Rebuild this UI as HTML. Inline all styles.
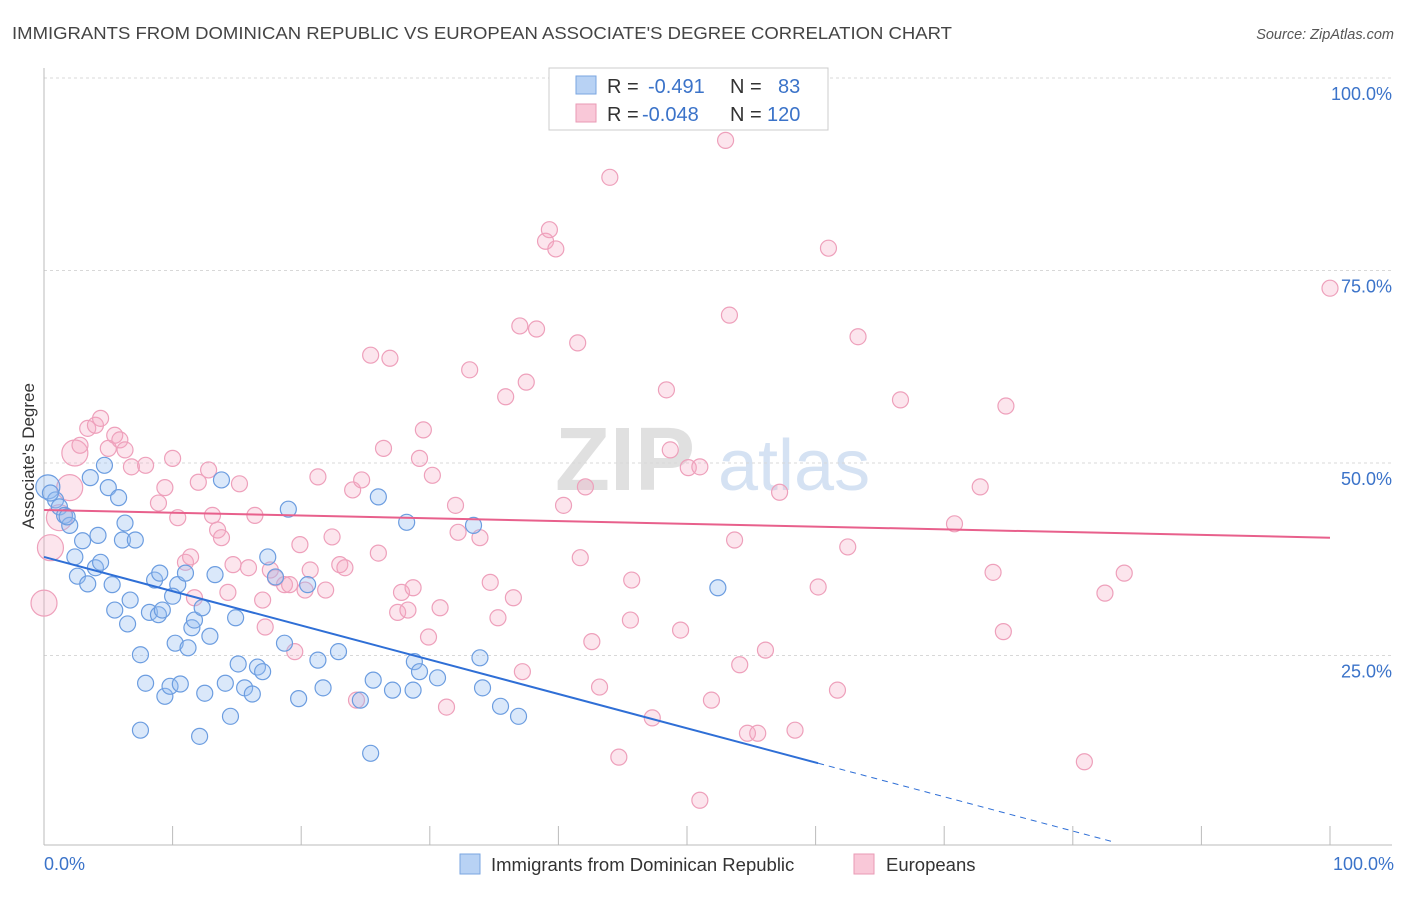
<!DOCTYPE html>
<html><head><meta charset="utf-8"><style>
body{margin:0;background:#fff;font-family:"Liberation Sans",sans-serif;}
svg text{font-family:"Liberation Sans",sans-serif;}
</style></head><body>
<svg id="chart" width="1406" height="892" xmlns="http://www.w3.org/2000/svg">
<text x="12" y="39" font-size="17.5" fill="#444" textLength="940" lengthAdjust="spacingAndGlyphs">IMMIGRANTS FROM DOMINICAN REPUBLIC VS EUROPEAN ASSOCIATE'S DEGREE CORRELATION CHART</text>
<text x="1394" y="39" font-size="14.5" fill="#555" font-style="italic" text-anchor="end">Source: ZipAtlas.com</text>
<g>
<text x="555" y="490" font-size="90" fill="#e0e0e0" font-family="Liberation Serif" font-weight="bold">ZIP</text>
<text x="718" y="490" font-size="72" fill="#d5e2f3">atlas</text>
</g>
<g id="grid"></g>
<g id="axes"></g>
<g id="pink"></g>
<g id="blue"></g>
<g id="trends"></g>
<text transform="translate(34,456) rotate(-90)" font-size="17" fill="#333" text-anchor="middle">Associate's Degree</text>
<g>
<rect x="549" y="68" width="279" height="62" fill="#fff" stroke="#ccc"/>
<rect x="576" y="76" width="20" height="18" fill="#b8d2f4" stroke="#7aa6e0"/>
<rect x="576" y="104" width="20" height="18" fill="#f9c8d8" stroke="#e99ab5"/>
<text x="607" y="93" font-size="20" fill="#333">R = <tspan x="648" fill="#3b73c9">-0.491</tspan><tspan x="730">N = </tspan><tspan x="778" fill="#3b73c9">83</tspan></text>
<text x="607" y="121" font-size="20" fill="#333">R = <tspan x="642" fill="#3b73c9">-0.048</tspan><tspan x="730">N = </tspan><tspan x="767" fill="#3b73c9">120</tspan></text>
</g>
<g>
<rect x="460" y="854" width="20" height="20" fill="#b8d2f4" stroke="#7aa6e0"/>
<text x="491" y="871" font-size="18.5" fill="#333">Immigrants from Dominican Republic</text>
<rect x="854" y="854" width="20" height="20" fill="#f9c8d8" stroke="#e99ab5"/>
<text x="886" y="871" font-size="18.5" fill="#333">Europeans</text>
</g>
</svg>
<script>
const blueX=[0.3,0.9,1.2,1.6,2.0,3.6,4.7,5.0,5.8,6.3,4.2,3.0,2.4,2.6,3.4,4.0,4.4,5.3,6.1,7.1,5.5,6.5,6.7,7.5,7.9,8.2,8.6,8.9,9.0,9.4,9.8,10.2,10.4,10.0,10.6,11.0,11.2,11.5,11.7,12.1,12.3,12.5,12.9,13.3,13.8,14.1,14.5,14.9,15.1,15.6,16.2,16.6,17.0,17.4,18.0,18.7,19.0,19.8,20.5,21.3,21.7,22.9,24.6,25.6,25.4,26.0,27.1,28.2,28.7,28.8,29.2,30.6,33.4,33.9,34.1,35.5,36.9,52.4,0.5,1.8,7.5,9.2];
const blueY=[46.9,45.2,44.3,43.2,41.9,48.1,49.7,46.8,45.5,42.2,40.6,39.9,37.8,35.3,34.3,36.4,37.1,34.2,40.0,40.0,30.9,29.1,32.2,25.1,21.4,30.6,34.8,30.3,35.7,19.7,21.0,26.6,34.2,32.7,21.3,35.7,26.0,28.6,29.6,14.5,31.2,20.1,27.5,35.5,47.8,21.4,17.1,29.9,23.9,20.8,20.0,23.5,22.9,37.8,35.2,26.6,44.0,19.4,34.2,24.4,20.8,25.5,19.2,21.8,12.3,45.6,20.5,42.3,20.5,24.2,22.9,22.1,41.9,24.7,20.8,18.4,17.1,33.8,46.1,43.0,15.3,30.9];
const pinkX=[0,0.5,1.2,2.0,2.4,2.8,3.4,4.0,4.4,5.0,5.5,5.9,6.3,6.8,7.9,8.9,9.4,10.0,10.4,11.0,11.4,11.7,12.0,12.8,13.1,13.5,13.8,14.3,14.7,15.2,15.9,16.4,17.0,17.2,17.6,18.0,18.7,19.1,19.5,19.9,20.3,20.7,21.3,21.9,22.4,23.0,23.4,24.0,24.3,24.7,25.4,26.0,26.4,26.9,27.5,27.8,28.3,28.7,29.2,29.5,29.9,30.2,30.8,31.3,32.0,32.2,33.1,33.9,34.7,35.3,35.9,36.5,37.2,37.5,37.0,38.3,39.0,39.3,39.8,40.4,41.5,41.7,42.1,42.6,43.2,44.0,44.7,45.6,45.7,47.3,48.4,48.7,49.5,50.1,51.0,51.0,51.9,53.0,53.3,53.7,54.1,54.7,55.5,56.1,57.2,58.4,60.2,61.0,61.7,62.5,63.3,66.6,70.8,72.8,73.8,74.6,74.8,80.9,82.5,84.0,100.0];
const pinkY=[31.8,39.0,42.9,46.8,51.3,52.3,54.5,54.9,55.8,51.9,53.6,53.0,51.7,49.5,49.7,44.8,46.8,50.6,42.9,37.1,37.8,32.5,47.5,49.1,43.2,41.3,40.3,33.2,36.8,47.3,36.4,43.2,32.2,28.7,36.1,35.1,34.2,34.2,25.5,39.4,33.5,36.1,48.2,33.5,40.4,36.8,36.4,46.5,19.2,47.8,64.0,38.3,51.9,63.6,30.6,33.2,30.9,33.8,50.6,54.3,27.4,48.4,31.2,18.3,44.5,41.0,62.1,40.3,34.5,29.9,58.6,32.5,22.9,60.5,67.8,67.4,78.8,80.3,77.8,44.5,65.6,37.7,46.9,26.8,20.9,87.1,11.8,29.6,34.8,16.9,59.5,51.7,28.3,49.4,49.5,6.2,19.2,91.9,69.2,40.0,23.8,14.9,14.9,25.7,46.2,15.3,33.9,77.9,20.5,39.1,66.4,58.2,42.1,46.9,35.8,28.1,57.4,11.2,33.1,35.7,72.7];
const blueTrend=[37.8,-0.445,60.2,83.2];
const pinkTrend=[43.9,-0.036];
const yTicks=[25,50,75,100];
const yTickLabels=["25.0%","50.0%","75.0%","100.0%"];
const xTicks=[0,10,20,30,40,50,60,70,80,90,100];

const NS="http://www.w3.org/2000/svg";
const X=v=>44+v*12.86, Y=v=>848-v*7.7;
function mk(tag,attrs,parent){const e=document.createElementNS(NS,tag);for(const k in attrs)e.setAttribute(k,attrs[k]);parent.appendChild(e);return e;}
const grid=document.getElementById('grid'),axes=document.getElementById('axes');
yTicks.forEach((t,i)=>{
  const l=mk('line',{x1:44,x2:1392,y1:Y(t),y2:Y(t),stroke:'#d8d8d8','stroke-dasharray':'3,3'},grid);
  
  
  const tx=mk('text',{x:1392,y:Y(t)+22,'font-size':18,fill:'#3b73c9','text-anchor':'end'},axes);
  tx.textContent=yTickLabels[i];
  
  
});
const ya=mk('line',{x1:44,x2:44,y1:68,y2:845,stroke:'#bbb'},axes);


const xa=mk('line',{x1:44,x2:1392,y1:845,y2:845,stroke:'#bbb'},axes);


xTicks.forEach(t=>{
  const l=mk('line',{x1:X(t),x2:X(t),y1:826,y2:845,stroke:'#bbb'},axes);
  
  
});
const xl0=mk('text',{x:44,y:870,'font-size':18,fill:'#3b73c9'},axes);xl0.textContent="0.0%";


const xl1=mk('text',{x:1394,y:870,'font-size':18,fill:'#3b73c9','text-anchor':'end'},axes);xl1.textContent="100.0%";



const pg=document.getElementById('pink');
pinkX.forEach((x,i)=>{
  const r=i<5?13:8;
  const c=mk('circle',{cx:X(x),cy:Y(pinkY[i]),r:r,fill:'rgba(246,170,195,0.3)',stroke:'#eea0bb','stroke-width':1.2},pg);
  
  
});
const bg=document.getElementById('blue');
blueX.forEach((x,i)=>{
  const r=i==0?12:8;
  const c=mk('circle',{cx:X(x),cy:Y(blueY[i]),r:r,fill:'rgba(150,190,240,0.35)',stroke:'#6c9de0','stroke-width':1.2},bg);
  
  
});
const tg=document.getElementById('trends');
const bf=v=>blueTrend[0]+blueTrend[1]*v;
const b1=mk('line',{x1:X(0),y1:Y(bf(0)),x2:X(blueTrend[2]),y2:Y(bf(blueTrend[2])),stroke:'#2f6fd6','stroke-width':2},tg);


const b2=mk('line',{x1:X(blueTrend[2]),y1:Y(bf(blueTrend[2])),x2:X(blueTrend[3]),y2:Y(bf(blueTrend[3])),stroke:'#2f6fd6','stroke-width':1,'stroke-dasharray':'6,5'},tg);


const pf=v=>pinkTrend[0]+pinkTrend[1]*v;
const p1=mk('line',{x1:X(0),y1:Y(pf(0)),x2:X(100),y2:Y(pf(100)),stroke:'#e8608c','stroke-width':2},tg);


</script>
</body></html>
